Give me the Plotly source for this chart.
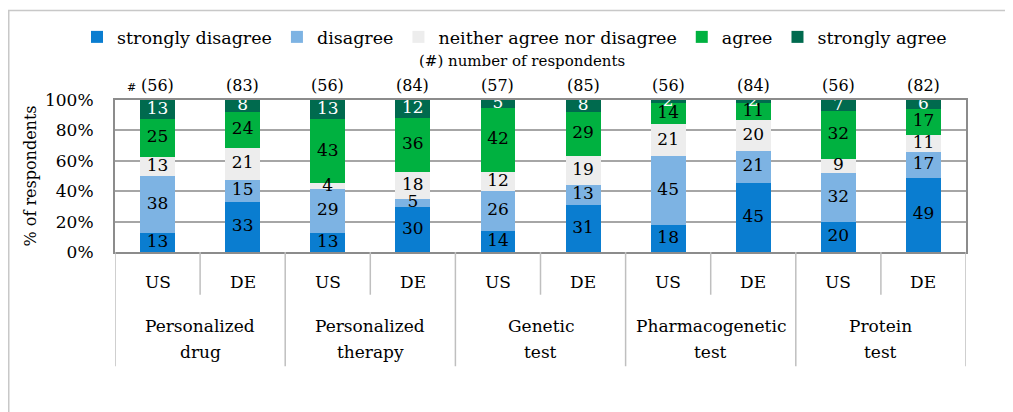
import plotly.graph_objects as go

group_line1 = ["Personalized", "Personalized", "Genetic", "Pharmacogenetic", "Protein"]
group_line2 = ["drug", "therapy", "test", "test", "test"]
countries = ["US", "DE"]
respondents = [56, 83, 56, 84, 57, 85, 56, 84, 56, 82]

series_names = ["strongly disagree", "disagree", "neither agree nor disagree", "agree", "strongly agree"]
strongly_disagree = [13, 33, 13, 30, 14, 31, 18, 45, 20, 49]
disagree = [38, 15, 29, 5, 26, 13, 45, 21, 32, 17]
neither = [13, 21, 4, 18, 12, 19, 21, 20, 9, 11]
agree = [25, 24, 43, 36, 42, 29, 14, 11, 32, 17]
strongly_agree = [13, 8, 13, 12, 5, 8, 2, 2, 7, 6]

colors = ["#0A7DD0", "#7DB3E3", "#EDEDED", "#00B140", "#006A4E"]
text_colors = ["black", "black", "black", "black", "white"]

# page has an 8px body margin; figure sized to fill the rest of the window
OFF = 8
W, H = 1013 - OFF, 412 - OFF
ML, MR, MT, MB = 115 - OFF, 47, 99 - OFF, 160
PW, PH = W - ML - MR, H - MT - MB

def px_x(p):  # page pixel -> paper x
    return (p - OFF - ML) / PW

def px_y(p):  # page pixel -> paper y
    return (H - MB - (p - OFF)) / PH

n_groups = len(group_line1)
n_sub = len(countries)
sub_labels = [c for _ in range(n_groups) for c in countries]
xpos = list(range(len(sub_labels)))

FONT = "DejaVu Serif"
all_series = [strongly_disagree, disagree, neither, agree, strongly_agree]
totals = [sum(s[i] for s in all_series) for i in range(len(respondents))]

fig = go.Figure()
for name, vals, col in zip(series_names, all_series, colors):
    fig.add_trace(go.Bar(
        x=xpos, y=vals, name=name, marker=dict(color=col, line=dict(width=0)),
        hoverinfo="skip",
    ))

# value labels at segment centres (percent-normalised)
cum = [0] * len(respondents)
for vals, tc in zip(all_series, text_colors):
    mids = []
    for i, v in enumerate(vals):
        mids.append((cum[i] + v / 2) / totals[i] * 100)
        cum[i] += v
    fig.add_trace(go.Scatter(
        x=xpos, y=mids, mode="text", text=[str(v) for v in vals],
        textposition="middle center",
        textfont=dict(family=FONT, size=17, color=tc),
        showlegend=False, cliponaxis=False, hoverinfo="skip",
    ))

annotations = [
    dict(text="(#) number of respondents", xref="paper", yref="paper",
         x=px_x(522), y=px_y(60), showarrow=False,
         font=dict(family=FONT, size=15), xanchor="center", yanchor="middle"),
    dict(text="#", xref="paper", yref="paper",
         x=px_x(131), y=px_y(86), showarrow=False,
         font=dict(family=FONT, size=11), xanchor="center", yanchor="middle"),
]
for x, n in zip(xpos, respondents):
    annotations.append(dict(text=f"({n})", x=x, xref="x", y=px_y(84), yref="paper",
                            showarrow=False, font=dict(family=FONT, size=16),
                            xanchor="center", yanchor="middle"))
for x, lab in zip(xpos, sub_labels):
    annotations.append(dict(text=lab, x=x, xref="x", y=px_y(282), yref="paper",
                            showarrow=False, font=dict(family=FONT, size=17),
                            xanchor="center", yanchor="middle"))
for g, (l1, l2) in enumerate(zip(group_line1, group_line2)):
    gx = g * n_sub + (n_sub - 1) / 2
    annotations.append(dict(text=l1, x=gx, xref="x", y=px_y(326), yref="paper",
                            showarrow=False, font=dict(family=FONT, size=17),
                            xanchor="center", yanchor="middle"))
    annotations.append(dict(text=l2, x=gx, xref="x", y=px_y(353), yref="paper",
                            showarrow=False, font=dict(family=FONT, size=17),
                            xanchor="center", yanchor="middle"))

shapes = [
    dict(type="line", xref="paper", yref="paper",
         x0=px_x(8), x1=px_x(1020), y0=px_y(9), y1=px_y(9),
         line=dict(color="#C8C8C8", width=1.5)),
    dict(type="line", xref="paper", yref="paper",
         x0=px_x(8.75), x1=px_x(8.75), y0=px_y(9), y1=px_y(420),
         line=dict(color="#C8C8C8", width=1.5)),
]
for b in range(len(xpos) + 1):
    bottom = 367 if b % n_sub == 0 else 295
    shapes.append(dict(type="line", xref="x", yref="paper",
                       x0=b - 0.5, x1=b - 0.5, y0=0, y1=px_y(bottom),
                       line=dict(color="#BFBFBF", width=1.5)))

fig.update_layout(
    width=W, height=H,
    margin=dict(l=ML, r=MR, t=MT, b=MB),
    barmode="stack", barnorm="percent", bargap=0.59,
    plot_bgcolor="white", paper_bgcolor="white",
    font=dict(family=FONT, size=17, color="black"),
    legend=dict(orientation="h", x=px_x(77), xanchor="left",
                y=px_y(37), yanchor="middle",
                font=dict(family=FONT, size=17.5), traceorder="normal",
                itemwidth=30, itemclick=False),
    annotations=annotations,
    shapes=shapes,
)

fig.update_yaxes(range=[0, 100], tickmode="array", tickvals=[0, 20, 40, 60, 80, 100],
                 ticktext=["0%", "20%", "40%", "60%", "80%", "100%"],
                 showgrid=True, gridcolor="#A6A6A6", gridwidth=1.5,
                 showline=True, linecolor="#8C8C8C", linewidth=2, mirror=True,
                 ticks="", zeroline=False, automargin=False,
                 ticklabelstandoff=16,
                 tickfont=dict(family=FONT, size=17),
                 title=dict(text="% of respondents", font=dict(family=FONT, size=16), standoff=4))
fig.update_xaxes(range=[-0.5, len(xpos) - 0.5], showgrid=False, automargin=False,
                 showticklabels=False, ticks="", zeroline=False,
                 showline=True, linecolor="#8C8C8C", linewidth=2, mirror=True)

fig.write_html("out.html")
